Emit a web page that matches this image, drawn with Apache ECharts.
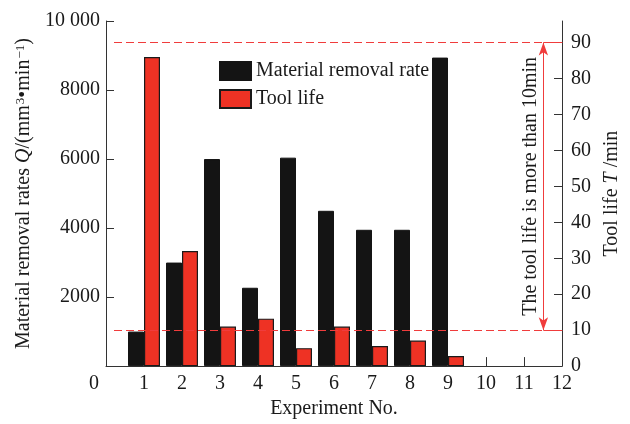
<!DOCTYPE html>
<html>
<head>
<meta charset="utf-8">
<script src="https://cdn.jsdelivr.net/npm/echarts@6/dist/echarts.min.js"></script>
<style>
html,body{margin:0;padding:0;background:#fff;}
#chart{width:630px;height:424px;}
</style>
</head>
<body>
<div id="chart"></div>
<script>
const experiments = [1, 2, 3, 4, 5, 6, 7, 8, 9];
const removalRate = [1000, 3000, 6000, 2270, 6040, 4500, 3950, 3950, 8940];
const toolLife = [86, 32, 11, 13.2, 5, 11, 5.6, 7.1, 2.8];
const xTickValues = [0, 1, 2, 3, 4, 5, 6, 7, 8, 9, 10, 11, 12];
const leftTickValues = [0, 2000, 4000, 6000, 8000, 10000];
const rightTickValues = [0, 10, 20, 30, 40, 50, 60, 70, 80, 90];
const lifeLimits = [10, 90];
const annotationText = 'The tool life is more than 10min';
const arrowX = 11.3;
const limitEndX = 11.8;

const FONT = '"Liberation Serif", "Times New Roman", serif';
const TXT = '#1a1a1a';
const AXIS = '#333';
const LINE_RED = '#f03c3c';

const chart = echarts.init(document.getElementById('chart'));

const markData = [
  [{coord: [0, lifeLimits[1]], lineStyle: {type: [8, 4]}}, {coord: [arrowX, lifeLimits[1]]}],
  [{coord: [0, lifeLimits[0]], lineStyle: {type: [8, 4]}}, {coord: [arrowX, lifeLimits[0]]}],
  [{coord: [arrowX, lifeLimits[1]], lineStyle: {type: 'solid'}}, {coord: [limitEndX, lifeLimits[1]]}],
  [{coord: [arrowX, lifeLimits[0]], lineStyle: {type: 'solid'}}, {coord: [limitEndX, lifeLimits[0]]}],
  [
    {
      coord: [arrowX, lifeLimits[0]], symbol: 'arrow', symbolSize: [7, 13],
      lineStyle: {type: 'solid'},
      label: {
        show: true, position: 'insideMiddleTop', formatter: annotationText,
        fontFamily: FONT, fontSize: 20, color: TXT, distance: 3
      }
    },
    {coord: [arrowX, lifeLimits[1]], symbol: 'arrow', symbolSize: [7, 13]}
  ]
];

chart.setOption({
  animation: false,
  backgroundColor: '#fff',
  grid: {left: 106, right: 62, top: 21, bottom: 56, containLabel: false},
  legend: {
    orient: 'vertical', left: 214, top: 56,
    itemWidth: 31, itemHeight: 18, itemGap: 8,
    icon: 'rect',
    textStyle: {fontFamily: FONT, fontSize: 20, color: TXT},
    data: ['Material removal rate', 'Tool life']
  },
  xAxis: {
    type: 'value', min: 0, max: 12, interval: 1,
    name: 'Experiment No.', nameLocation: 'middle', nameGap: 30,
    nameTextStyle: {fontFamily: FONT, fontSize: 20, color: TXT},
    axisLine: {show: true, lineStyle: {color: AXIS, width: 1}},
    axisTick: {show: true, inside: true, length: 9, lineStyle: {color: AXIS}, customValues: xTickValues},
    axisLabel: {
      fontFamily: FONT, fontSize: 20, color: TXT, margin: 8,
      customValues: xTickValues,
      formatter: function (v) { return v === 0 ? '{z|0}' : String(v); },
      rich: {z: {fontFamily: FONT, fontSize: 20, color: TXT, padding: [0, 24, 0, 0]}}
    },
    splitLine: {show: false}
  },
  yAxis: [
    {
      type: 'value', min: 0, max: 10000, interval: 2000, position: 'left',
      name: '{n|Material removal rates }{i|Q}{n|/(mm}{s|3}{n|•min}{s|−1}{n|)}',
      nameLocation: 'middle', nameGap: 68,
      nameTextStyle: {
        fontFamily: FONT, fontSize: 20, color: TXT,
        rich: {
          n: {fontFamily: FONT, fontSize: 20, color: TXT},
          i: {fontFamily: FONT, fontSize: 20, color: TXT, fontStyle: 'italic'},
          s: {fontFamily: FONT, fontSize: 13, color: TXT, verticalAlign: 'top', padding: [0, 0, 8, 1]}
        }
      },
      axisLine: {show: true, lineStyle: {color: AXIS, width: 1}},
      axisTick: {show: true, inside: true, length: 8, lineStyle: {color: AXIS}},
      axisLabel: {
        fontFamily: FONT, fontSize: 20, color: TXT, margin: 6,
        customValues: leftTickValues,
        formatter: function (v) { return v === 0 ? '' : (v === 10000 ? '10 000' : String(v)); }
      },
      splitLine: {show: false}
    },
    {
      type: 'value', min: 0, max: 96, interval: 10, position: 'right',
      name: '{n|Tool life }{i|T}{n| /min}',
      nameLocation: 'middle', nameGap: 40,
      nameTextStyle: {
        fontFamily: FONT, fontSize: 20, color: TXT,
        rich: {
          n: {fontFamily: FONT, fontSize: 20, color: TXT},
          i: {fontFamily: FONT, fontSize: 20, color: TXT, fontStyle: 'italic'}
        }
      },
      axisLine: {show: true, lineStyle: {color: AXIS, width: 1}},
      axisTick: {show: true, inside: true, length: 8, lineStyle: {color: AXIS}, customValues: rightTickValues},
      axisLabel: {
        fontFamily: FONT, fontSize: 20, color: TXT, margin: 9,
        customValues: rightTickValues,
        formatter: function (v) { return v % 10 === 0 ? String(v) : ''; }
      },
      splitLine: {show: false}
    }
  ],
  series: [
    {
      name: 'Material removal rate', type: 'bar', xAxisIndex: 0, yAxisIndex: 0,
      barWidth: 16, barGap: '0%',
      itemStyle: {color: '#141414', borderColor: '#141414', borderWidth: 1},
      data: experiments.map(function (e, i) { return [e, removalRate[i]]; })
    },
    {
      name: 'Tool life', type: 'bar', xAxisIndex: 0, yAxisIndex: 1,
      barWidth: 16, barGap: '0%',
      itemStyle: {color: '#ee3224', borderColor: '#1a1a1a', borderWidth: 1.2},
      data: experiments.map(function (e, i) { return [e, toolLife[i]]; }),
      markLine: {
        silent: true, animation: false, symbol: 'none',
        lineStyle: {color: LINE_RED, width: 1},
        label: {show: false},
        emphasis: {disabled: true},
        data: markData
      }
    }
  ]
});
</script>
</body>
</html>
